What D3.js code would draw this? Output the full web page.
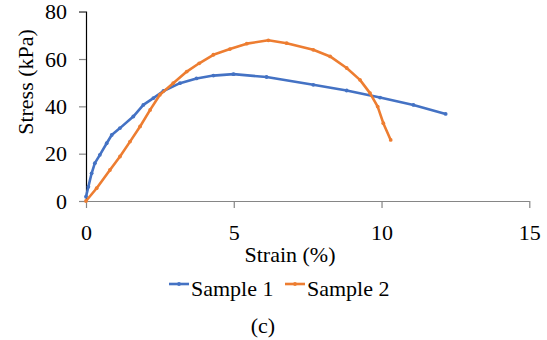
<!DOCTYPE html>
<html>
<head>
<meta charset="utf-8">
<script src="https://cdn.jsdelivr.net/npm/d3@7"></script>
</head>
<body style="margin:0">
<svg id="chart" width="547" height="340" style="display:block"></svg>
<script>
// strain (%) and stress (kPa)
var strain1 = [0, 0.08, 0.19, 0.30, 0.47, 0.70, 0.87, 1.15, 1.60, 1.94, 2.28, 2.62, 3.18, 3.74, 4.31, 4.99, 6.11, 7.69, 8.82, 9.95, 11.08, 12.17]
var stress1 = [1.8, 6, 11.7, 16, 19.5, 24.4, 27.9, 30.8, 35.7, 40.6, 43.5, 46.5, 49.8, 51.8, 53.0, 53.6, 52.4, 49.1, 46.7, 43.7, 40.6, 36.8]

var strain2 = [0, 0.36, 0.81, 1.15, 1.49, 1.83, 2.17, 2.50, 2.95, 3.41, 3.83, 4.31, 4.87, 5.44, 6.17, 6.79, 7.69, 8.26, 8.82, 9.27, 9.61, 9.87, 10.06, 10.31]
var stress2 = [0, 5.4, 13.1, 18.8, 25.1, 31.5, 38.5, 44.9, 49.8, 54.7, 58.2, 61.8, 64.2, 66.5, 67.9, 66.7, 63.9, 61.1, 56.2, 51.2, 45.6, 39.9, 32.9, 25.8]

var seriesNames = ['Sample 1', 'Sample 2']
var colors = ['#4472C4', '#ED7D31']
var xTicks = [0, 5, 10, 15]
var yTicks = [0, 20, 40, 60, 80]

var series = [
  strain1.map((d, i) => ({x: d, y: stress1[i]})),
  strain2.map((d, i) => ({x: d, y: stress2[i]}))
]

var FONT = 'Times New Roman'
var svg = d3.select('#chart')

var x = d3.scaleLinear().domain([0, 15]).range([86, 529.3])
var y = d3.scaleLinear().domain([0, 80]).range([201, 11.7])

// axes
var yAxis = svg.append('g')
  .attr('transform', 'translate(86,0)')
  .call(d3.axisLeft(y).tickValues(yTicks).tickSize(7).tickPadding(12))
yAxis.select('.domain').attr('stroke', '#000').attr('stroke-width', 1.2)
yAxis.selectAll('.tick line').attr('stroke', '#868686').attr('stroke-width', 1.2)
yAxis.selectAll('.tick text').attr('dy', '0.32em').attr('fill', '#000')
  .attr('font-family', FONT).attr('font-size', 22)

var xAxis = svg.append('g')
  .attr('transform', 'translate(0,201)')
  .call(d3.axisBottom(x).tickValues(xTicks).tickSize(7).tickSizeOuter(0))
xAxis.select('.domain').attr('stroke', '#868686').attr('stroke-width', 1.2)
xAxis.selectAll('.tick line').attr('stroke', '#868686').attr('stroke-width', 1.2)
xAxis.selectAll('.tick text').attr('y', 39).attr('dy', 0).attr('fill', '#000')
  .attr('font-family', FONT).attr('font-size', 22)

// lines
var line = d3.line().x(d => x(d.x)).y(d => y(d.y))

series.forEach(function(s, i){
  svg.append('path')
    .attr('d', line(s))
    .attr('fill', 'none')
    .attr('stroke', colors[i])
    .attr('stroke-width', 2.6)
    .attr('stroke-linejoin', 'round')
  svg.append('g').selectAll('circle')
    .data(s).join('circle')
    .attr('cx', d => x(d.x))
    .attr('cy', d => y(d.y))
    .attr('r', 1.9)
    .attr('fill', colors[i])
})

// axis titles
svg.append('text')
  .attr('x', 290).attr('y', 262)
  .attr('text-anchor', 'middle').attr('font-size', 22).attr('font-family', FONT)
  .text('Strain (%)')

svg.append('text')
  .attr('transform', 'translate(33,82) rotate(-90)')
  .attr('text-anchor', 'middle').attr('font-size', 22).attr('font-family', FONT)
  .text('Stress (kPa)')

// legend
var legendX = [169, 285]
seriesNames.forEach(function(name, i){
  var g = svg.append('g').attr('transform', 'translate(' + legendX[i] + ',284)')
  g.append('line').attr('x1', 0).attr('x2', 20).attr('y1', 0).attr('y2', 0)
    .attr('stroke', colors[i]).attr('stroke-width', 2.6)
  g.append('circle').attr('cx', 10).attr('cy', 0).attr('r', 1.9).attr('fill', colors[i])
  g.append('text').attr('x', 22).attr('y', 12).attr('font-size', 22).attr('font-family', FONT).text(name)
})

svg.append('text')
  .attr('x', 263).attr('y', 333)
  .attr('text-anchor', 'middle').attr('font-size', 22).attr('font-family', FONT)
  .text('(c)')
</script>
</body>
</html>
